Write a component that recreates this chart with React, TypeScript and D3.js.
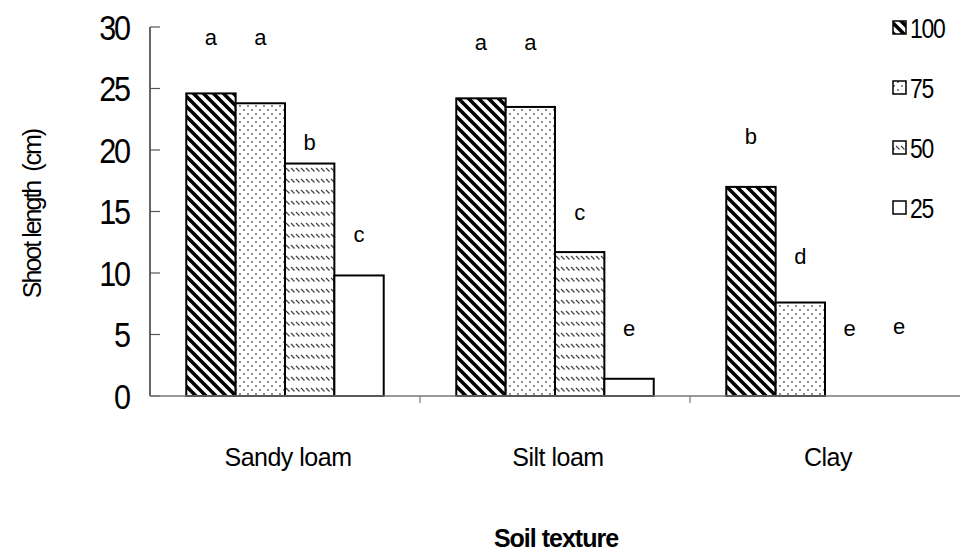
import React from "react";
import * as d3 from "d3";

// soil texture categories and treatment series
const categories = ["Sandy loam", "Silt loam", "Clay"];
const series = ["100", "75", "50", "25"];
const values100 = [24.6, 24.2, 17.0];
const values75 = [23.8, 23.5, 7.6];
const values50 = [18.9, 11.7, 0];
const values25 = [9.8, 1.4, 0];
const letters100 = ["a", "a", "b"];
const letters75 = ["a", "a", "d"];
const letters50 = ["b", "c", "e"];
const letters25 = ["c", "e", "e"];
// height (in cm units) where each significance letter sits
const letterY100 = [28.5, 28.1, 20.5];
const letterY75 = [28.5, 28.1, 10.7];
const letterY50 = [20.0, 14.3, 4.9];
const letterY25 = [12.5, 4.9, 5.05];
const yTicks = [0, 5, 10, 15, 20, 25, 30];

const seriesValues = [values100, values75, values50, values25];
const seriesLetters = [letters100, letters75, letters50, letters25];
const seriesLetterY = [letterY100, letterY75, letterY50, letterY25];
const fills = ["url(#p100)", "url(#p75)", "url(#p50)", "#fff"];

const W = 962;
const H = 557;
const font = "'Liberation Sans', Arial, sans-serif";

export default function App() {
  const x0 = d3.scaleBand<string>().domain(categories).range([150, 960]).padding(0);
  const x1 = d3
    .scaleBand<string>()
    .domain(series)
    .range([0, x0.bandwidth()])
    .paddingInner(0)
    .paddingOuter(0.735);
  const y = d3.scaleLinear().domain([0, 30]).range([396, 27]);

  return (
    <svg width={W} height={H} style={{ position: "absolute", left: 0, top: 0, background: "#fff" }}>
      <defs>
        <pattern id="p100" patternUnits="userSpaceOnUse" width={10} height={10}>
          <rect width={10} height={10} fill="#fff" />
          <path d="M-2,-2 L12,12 M-2,8 L2,12 M8,-2 L12,2" stroke="#000" strokeWidth={3.6} />
        </pattern>
        <pattern id="p75" patternUnits="userSpaceOnUse" width={8} height={8}>
          <rect width={8} height={8} fill="#fff" />
          <circle cx={2} cy={2} r={0.9} fill="#555" />
          <circle cx={6} cy={6} r={0.9} fill="#555" />
        </pattern>
        <pattern id="p50" patternUnits="userSpaceOnUse" width={5} height={11}>
          <rect width={5} height={11} fill="#fff" />
          <path d="M1,3 L4.5,6.5" stroke="#444" strokeWidth={1.3} />
        </pattern>
      </defs>

      {/* bars */}
      {categories.map((c, ci) => (
        <g key={c} transform={`translate(${x0(c)},0)`}>
          {series.map((s, si) => {
            const v = seriesValues[si][ci];
            if (v <= 0) return null;
            return (
              <rect
                key={s}
                x={x1(s)}
                y={y(v)}
                width={x1.bandwidth()}
                height={y(0) - y(v)}
                fill={fills[si]}
                stroke="#000"
                strokeWidth={2}
              />
            );
          })}
          {series.map((s, si) => (
            <text
              key={"l" + s}
              x={(x1(s) as number) + x1.bandwidth() / 2}
              y={y(seriesLetterY[si][ci])}
              textAnchor="middle"
              fontFamily={font}
              fontSize={22}
              fill="#000"
            >
              {seriesLetters[si][ci]}
            </text>
          ))}
        </g>
      ))}

      {/* y axis */}
      <line x1={150} x2={150} y1={y(30)} y2={y(0)} stroke="#000" strokeWidth={1.2} />
      {yTicks.map((t) => (
        <g key={t}>
          <line x1={150} x2={160} y1={y(t)} y2={y(t)} stroke="#555" strokeWidth={1.2} />
          <g transform={`translate(129,${y(t)}) scale(0.85,1)`}>
            <text
              dy="0.36em"
              textAnchor="end"
              fontFamily={font}
              fontSize={36}
              letterSpacing={-2.5}
              fill="#000"
            >
              {t}
            </text>
          </g>
        </g>
      ))}

      {/* x axis */}
      <line x1={150} x2={960} y1={y(0)} y2={y(0)} stroke="#777" strokeWidth={1.5} />
      {categories.slice(1).map((c) => (
        <line key={c} x1={x0(c)} x2={x0(c)} y1={y(0)} y2={y(0) + 7} stroke="#777" strokeWidth={1.2} />
      ))}
      {categories.map((c) => (
        <text
          key={c}
          x={(x0(c) as number) + x0.bandwidth() / 2 + 3}
          y={466}
          textAnchor="middle"
          fontFamily={font}
          fontSize={25}
          letterSpacing={-0.5}
          fill="#000"
        >
          {c}
        </text>
      ))}

      {/* axis titles */}
      <text
        x={556}
        y={547}
        textAnchor="middle"
        fontFamily={font}
        fontSize={25}
        fontWeight="bold"
        letterSpacing={-1}
        fill="#000"
      >
        Soil texture
      </text>
      <text
        transform="translate(41,214) rotate(-90)"
        textAnchor="middle"
        fontFamily={font}
        fontSize={25}
        letterSpacing={-2}
        fill="#000"
        style={{ whiteSpace: "pre" }}
      >
        {"Shoot length  (cm)"}
      </text>

      {/* legend */}
      {series.map((s, si) => {
        const ly = 28 + si * 60;
        return (
          <g key={s}>
            <rect x={893} y={ly - 7} width={13} height={13} fill={fills[si]} stroke="#000" strokeWidth={1.5} />
            <g transform={`translate(910,${ly}) scale(0.85,1)`}>
              <text dy="0.36em" fontFamily={font} fontSize={27} letterSpacing={-1.5} fill="#000">
                {s}
              </text>
            </g>
          </g>
        );
      })}
    </svg>
  );
}
